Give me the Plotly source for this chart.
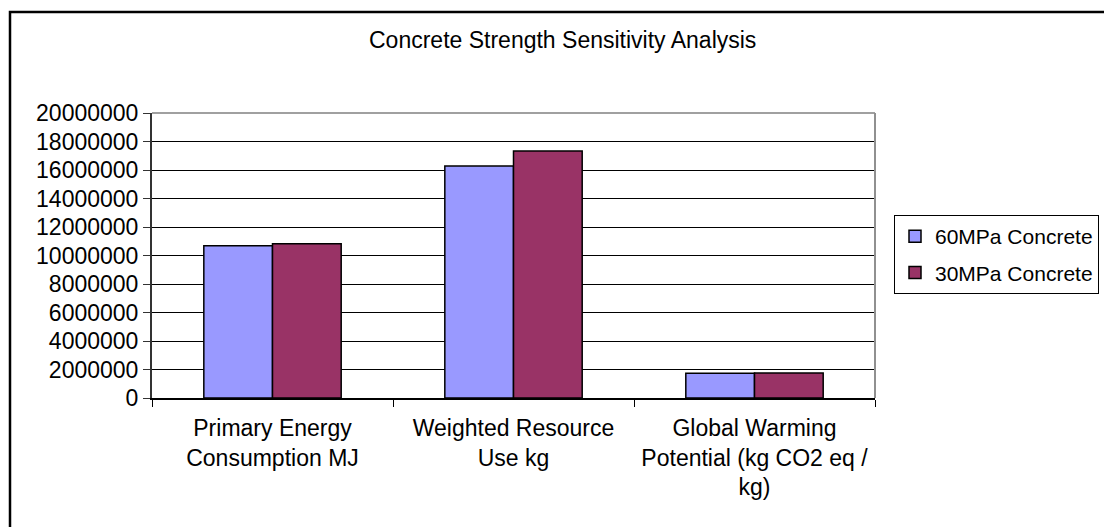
import plotly.graph_objects as go

# Impact categories and results for the two concrete strengths
categories = [
    "Primary Energy<br>Consumption MJ",
    "Weighted Resource<br>Use kg",
    "Global Warming<br>Potential (kg CO2 eq /<br>kg)",
]
concrete_60mpa = [10690000, 16280000, 1730000]
concrete_30mpa = [10830000, 17330000, 1750000]
y_ticks = [0, 2000000, 4000000, 6000000, 8000000, 10000000,
           12000000, 14000000, 16000000, 18000000, 20000000]

W, H = 1104, 527
L, R, T, B = 152, 875, 113, 398  # plot area in pixels


def px(x):
    return (x - L) / (R - L)


def py(y):
    return (B - y) / (B - T)


FONT = "Liberation Sans, Arial, sans-serif"
FS = 23

fig = go.Figure()
fig.add_trace(go.Bar(
    name="60MPa Concrete", x=categories, y=concrete_60mpa, legendgroup="a",
    marker=dict(color="#9999FF", line=dict(color="#000000", width=1.5)),
))
fig.add_trace(go.Bar(
    name="30MPa Concrete", x=categories, y=concrete_30mpa, legendgroup="b",
    marker=dict(color="#993366", line=dict(color="#000000", width=1.5)),
))

fig.update_layout(
    width=W, height=H,
    margin=dict(l=L, r=W - R, t=T, b=H - B, autoexpand=False),
    paper_bgcolor="white", plot_bgcolor="white",
    font=dict(family=FONT, size=FS, color="#000000"),
    barmode="group", bargap=0.43, bargroupgap=0,
    showlegend=True,
    legend=dict(
        x=px(894), xanchor="left", y=py(215), yanchor="top",
        bordercolor="#000000", borderwidth=1, bgcolor="white",
        font=dict(family=FONT, size=21), itemwidth=30, tracegroupgap=6,
    ),
    xaxis=dict(
        type="category", tickson="boundaries", ticks="outside", ticklen=7,
        tickcolor="#000000", showline=True, linecolor="#000000", linewidth=2,
        showgrid=False, tickangle=0, ticklabelstandoff=8,
        tickfont=dict(family=FONT, size=FS),
    ),
    yaxis=dict(
        range=[0, 20000000], tickvals=y_ticks, tickformat="d",
        ticks="outside", ticklen=7, tickcolor="#333333",
        showline=True, linecolor="#333333", linewidth=2,
        showgrid=True, gridcolor="#000000", gridwidth=1,
        zeroline=False, tickfont=dict(family=FONT, size=FS),
    ),
    shapes=[
        # plot area border (top and right)
        dict(type="line", xref="paper", yref="paper", x0=0, x1=1, y0=1, y1=1,
             line=dict(color="#A0A0A0", width=2), layer="above"),
        dict(type="line", xref="paper", yref="paper", x0=1, x1=1, y0=0, y1=1,
             line=dict(color="#909090", width=2), layer="above"),
        # chart frame
        dict(type="rect", xref="paper", yref="paper",
             x0=px(10), x1=px(1115), y0=py(540), y1=py(12),
             line=dict(color="#000000", width=2.5), layer="below"),
    ],
    annotations=[
        dict(text="Concrete Strength Sensitivity Analysis", xref="paper", yref="paper",
             x=px(562), y=py(40), xanchor="center", yanchor="middle",
             showarrow=False, font=dict(family=FONT, size=FS)),
    ],
)

fig.write_html("out.html")
